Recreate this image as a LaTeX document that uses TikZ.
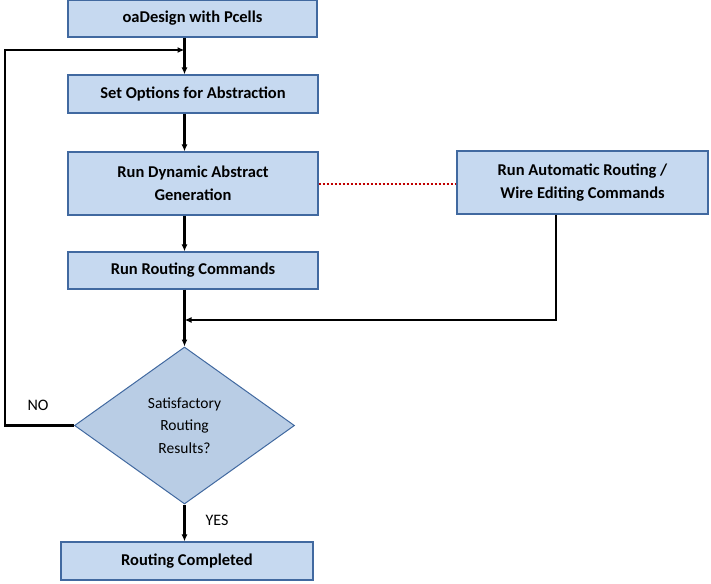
\documentclass[tikz,border=0pt]{standalone}
\usepackage{fontspec}
\setmainfont{Carlito}
\usepackage{xcolor}
\usetikzlibrary{shapes.geometric,arrows.meta}
\definecolor{boxfill}{RGB}{198,217,240}
\definecolor{boxline}{RGB}{65,105,160}
\definecolor{diafill}{RGB}{185,205,229}
\definecolor{linkred}{RGB}{192,0,0}

\begin{document}
\begin{tikzpicture}[x=1pt, y=-1pt, >={Latex[length=7pt,width=6pt]},
    stepbox/.style={draw=boxline, fill=boxfill, line width=1.2pt, inner sep=0pt,
        align=center, font=\fontsize{16.5}{23}\selectfont\bfseries},
    flow/.style={->, line width=2.4pt}]
    \useasboundingbox (0,0) rectangle (711,583);

    % Main column
    \node[stepbox, minimum width=249pt, minimum height=37pt] (design) at (192.5,18.5) {oaDesign with Pcells};
    \node[stepbox, minimum width=250pt, minimum height=38pt] (options) at (193,94) {Set Options for Abstraction};
    \node[stepbox, minimum width=250pt, minimum height=63pt] (dynamic) at (193,183.5) {Run Dynamic Abstract\\Generation};
    \node[stepbox, minimum width=250pt, minimum height=37pt] (routing) at (193,270.5) {Run Routing Commands};

    % Side box
    \node[stepbox, minimum width=251pt, minimum height=63pt] (auto) at (582.5,182.5) {Run Automatic Routing /\\Wire Editing Commands};

    % Decision
    \node[diamond, draw=boxline, fill=diafill, line width=1pt, aspect=1.4, inner sep=0pt,
        minimum width=220pt, minimum height=157pt, align=center,
        font=\fontsize{15.5}{22.5}\selectfont] (check) at (184.5,425.5) {Satisfactory\\Routing\\Results?};
    \node[stepbox, minimum width=252pt, minimum height=38pt] (done) at (187,561) {Routing Completed};

    % Labels
    \node[font=\fontsize{16}{18}\selectfont] (nolabel) at (38,405) {NO};
    \node[font=\fontsize{16}{18}\selectfont] (yeslabel) at (217,520) {YES};

    % Flow
    \coordinate (back) at (5,50);
    \coordinate (join) at (184.5,320);
    \draw[flow] (design.south -| check.north) -- (options.north -| check.north);
    \draw[flow] (options.south -| check.north) -- (dynamic.north -| check.north);
    \draw[flow] (dynamic.south -| check.north) -- (routing.north -| check.north);
    \draw[flow] (routing.south -| check.north) -- (check.north);
    \draw[flow] (check.south) -- (done.north -| check.south);

    % Loop back
    \draw[flow] (check.west) -- (check.west -| back) -- (back) -- (back -| check.north);

    % Side path
    \draw[flow] ([xshift=-26.5pt]auto.south) |- (join);
    \draw[linkred, dotted, line width=2pt] (dynamic.east) -- (dynamic.east -| auto.west);
\end{tikzpicture}
\end{document}
